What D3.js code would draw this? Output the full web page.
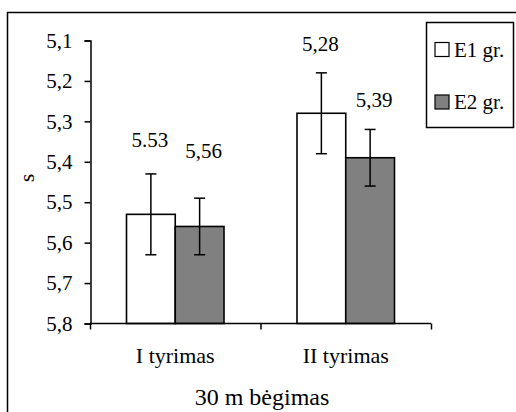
<!DOCTYPE html>
<html>
<head>
<meta charset="utf-8">
<script src="https://cdn.jsdelivr.net/npm/d3@7"></script>
<style>
  html, body { margin: 0; padding: 0; background: #fff; }
  svg { display: block; }
  svg text { font-family: "Liberation Serif", "Times New Roman", Times, "DejaVu Serif", serif; fill: #000; }
</style>
</head>
<body>
<svg id="chart" width="516" height="412"></svg>
<script>
// Test sessions and groups
const categories = ["I tyrimas", "II tyrimas"];
const series = ["E1 gr.", "E2 gr."];
// Mean 30 m run time (s), per session: [E1, E2]
const meanValues = [[5.53, 5.56], [5.28, 5.39]];
// Standard deviation for each bar
const errValues = [[0.10, 0.07], [0.10, 0.07]];
// Value labels as printed above the bars
const valueLabels = [["5.53", "5,56"], ["5,28", "5,39"]];
// Y axis ticks (axis runs downward: faster times sit higher)
const yTicks = [5.1, 5.2, 5.3, 5.4, 5.5, 5.6, 5.7, 5.8];
const yTickLabels = ["5,1", "5,2", "5,3", "5,4", "5,5", "5,6", "5,7", "5,8"];

// Styling
const fills = ["#ffffff", "#808080"];
const labelGap = [[27, 40], [22, 22]];
const FONT = '"Liberation Serif", "Times New Roman", Times, "DejaVu Serif", serif';

const svg = d3.select("#chart");

// Outer chart frame (runs off the right and bottom edges)
svg.append("rect")
  .attr("x", 7.5).attr("y", 12.5)
  .attr("width", 540).attr("height", 440)
  .attr("fill", "#fff").attr("stroke", "#000").attr("stroke-width", 1.5);

const y = d3.scaleLinear().domain([5.1, 5.8]).range([40.5, 323.5]);
const x = d3.scaleBand().domain(categories).range([90, 431]).padding(0);
const xs = d3.scaleBand().domain(series).range([36.5, x.bandwidth() - 36.5]).padding(0);

// Y axis
const yAxis = d3.axisLeft(y)
  .tickValues(yTicks)
  .tickFormat((d, i) => yTickLabels[i])
  .tickSize(6)
  .tickPadding(12);
const gy = svg.append("g").attr("transform", "translate(90.5,0)").call(yAxis)
  .attr("font-family", FONT).attr("font-size", 21);
gy.select(".domain").attr("stroke", "#000").attr("stroke-width", 1.5);
gy.selectAll(".tick line").attr("stroke", "#000").attr("stroke-width", 1.5);
gy.selectAll(".tick text").attr("fill", "#000");

// Bars
const groups = svg.append("g").selectAll("g")
  .data(categories)
  .join("g")
  .attr("transform", d => `translate(${x(d)},0)`);

groups.selectAll("rect")
  .data((d, ci) => series.map((s, si) => ({ s, si, ci, v: meanValues[ci][si] })))
  .join("rect")
  .attr("x", d => xs(d.s))
  .attr("y", d => y(d.v))
  .attr("width", xs.bandwidth())
  .attr("height", d => y(5.8) - y(d.v))
  .attr("fill", d => fills[d.si])
  .attr("stroke", "#000")
  .attr("stroke-width", 1.6);

// Error bars
const errG = groups.selectAll("g.err")
  .data((d, ci) => series.map((s, si) => ({ s, si, ci, v: meanValues[ci][si], e: errValues[ci][si] })))
  .join("g")
  .attr("class", "err")
  .attr("transform", d => `translate(${xs(d.s) + xs.bandwidth() / 2},0)`);
errG.append("line")
  .attr("x1", 0).attr("x2", 0)
  .attr("y1", d => y(d.v - d.e)).attr("y2", d => y(d.v + d.e))
  .attr("stroke", "#000").attr("stroke-width", 1.5);
errG.selectAll("line.cap")
  .data(d => [d.v - d.e, d.v + d.e])
  .join("line")
  .attr("class", "cap")
  .attr("x1", -5.5).attr("x2", 5.5)
  .attr("y1", d => y(d)).attr("y2", d => y(d))
  .attr("stroke", "#000").attr("stroke-width", 1.5);

// Value labels
groups.selectAll("text.val")
  .data((d, ci) => series.map((s, si) => ({ s, si, ci, v: meanValues[ci][si], e: errValues[ci][si] })))
  .join("text")
  .attr("class", "val")
  .attr("x", d => xs(d.s) + xs.bandwidth() / 2 + (d.si === 1 ? 4 : -1))
  .attr("y", d => y(d.v - d.e) - labelGap[d.ci][d.si])
  .attr("text-anchor", "middle")
  .attr("font-family", FONT)
  .attr("font-size", 21)
  .text(d => valueLabels[d.ci][d.si]);

// X axis
const xAxisY = y(5.8);
const gx = svg.append("g").attr("transform", `translate(0,${xAxisY})`);
gx.append("line")
  .attr("x1", x.range()[0]).attr("x2", x.range()[1])
  .attr("stroke", "#000").attr("stroke-width", 1.5);
gx.selectAll("line.tick")
  .data([...categories.map(c => x(c)), x.range()[1]])
  .join("line")
  .attr("class", "tick")
  .attr("x1", d => d + 0.5).attr("x2", d => d + 0.5)
  .attr("y1", 0).attr("y2", 6)
  .attr("stroke", "#000").attr("stroke-width", 1.5);
gx.selectAll("text")
  .data(categories)
  .join("text")
  .attr("x", d => x(d) + x.bandwidth() / 2)
  .attr("y", 39)
  .attr("text-anchor", "middle")
  .attr("font-family", FONT)
  .attr("font-size", 22)
  .text(d => d);

// Axis titles
svg.append("text")
  .attr("x", 262).attr("y", 405)
  .attr("text-anchor", "middle")
  .attr("font-family", FONT)
  .attr("font-size", 24)
  .text("30 m bėgimas");
svg.append("text")
  .attr("transform", "translate(34,178) rotate(-90)")
  .attr("text-anchor", "middle")
  .attr("font-family", FONT)
  .attr("font-size", 21)
  .text("s");

// Legend
const lg = svg.append("g");
lg.append("rect")
  .attr("x", 426.5).attr("y", 22.5)
  .attr("width", 87).attr("height", 105)
  .attr("fill", "#fff").attr("stroke", "#000").attr("stroke-width", 1.5);
const li = lg.selectAll("g.item")
  .data(series)
  .join("g")
  .attr("class", "item")
  .attr("transform", (d, i) => `translate(435,${42.5 + i * 52.5})`);
li.append("rect")
  .attr("width", 14).attr("height", 14)
  .attr("fill", (d, i) => fills[i])
  .attr("stroke", "#000").attr("stroke-width", 1.2);
li.append("text")
  .attr("x", 19).attr("y", 14)
  .attr("font-family", FONT)
  .attr("font-size", 21)
  .text(d => d.replace(" ", "\u00a0"));
</script>
</body>
</html>
